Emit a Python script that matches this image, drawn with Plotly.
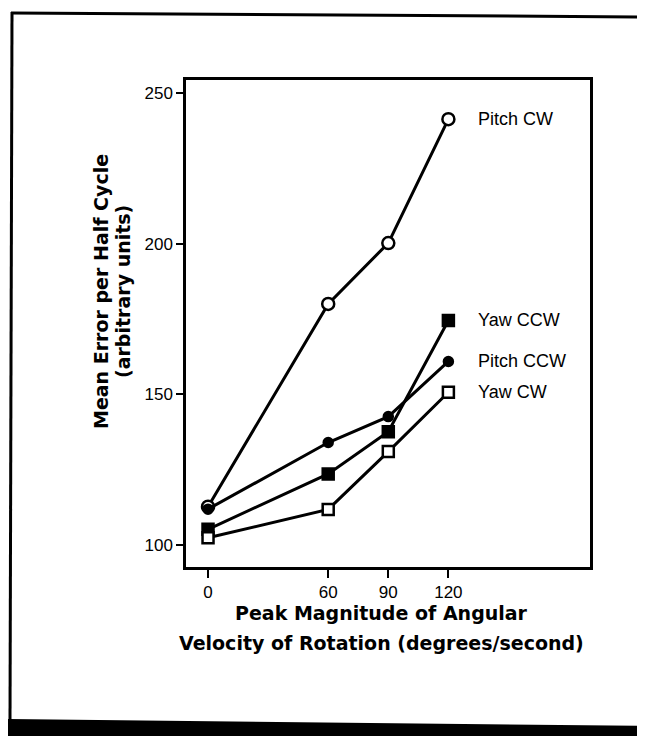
import plotly.graph_objects as go

# velocity (degrees/second)
velocity = [0, 60, 90, 120]

# mean error per half cycle (arbitrary units)
pitch_cw = [112.7, 180.0, 200.2, 241.3]
pitch_ccw = [111.9, 134.0, 142.6, 160.9]
yaw_ccw = [105.2, 123.6, 137.6, 174.5]
yaw_cw = [102.4, 111.8, 131.0, 150.7]

series_names = ["Pitch CW", "Yaw CCW", "Pitch CCW", "Yaw CW"]
series_values = [pitch_cw, yaw_ccw, pitch_ccw, yaw_cw]
series_symbols = ["circle-open", "square", "circle", "square-open"]
series_sizes = [12, 11, 9, 11]

x_ticks = [0, 60, 90, 120]
y_ticks = [100, 150, 200, 250]

# the page body has an 8px margin, so the figure is drawn 8px in from the corner
OFF = 8
W, H = 645 - OFF, 736 - OFF
# plot box in page pixels
PL, PR, PT, PB = 186, 590, 80, 567
L, R, T, B = PL - OFF, PR - OFF, PT - OFF, PB - OFF
FONT = "Liberation Sans, Arial, sans-serif"
BOLD = "DejaVu Sans, Verdana, sans-serif"


def px_x(p):
    return (p - PL) / (PR - PL)


def px_y(p):
    return (PB - p) / (PB - PT)


fig = go.Figure()

for name, vals, sym, size in zip(series_names, series_values, series_symbols, series_sizes):
    fig.add_trace(go.Scatter(
        x=velocity, y=vals, mode="lines", name=name,
        line=dict(color="black", width=3),
        cliponaxis=False,
    ))
    open_marker = "open" in sym
    fig.add_trace(go.Scatter(
        x=velocity, y=vals, mode="markers", showlegend=False,
        marker=dict(symbol=sym.replace("-open", ""), size=size,
                    color="white" if open_marker else "black",
                    line=dict(color="black", width=2.5)),
        cliponaxis=False,
    ))
    fig.add_annotation(x=velocity[-1], y=vals[-1], text=name, showarrow=False,
                       xanchor="left", xshift=28, font=dict(size=18, color="black", family=FONT))

axis_style = dict(showline=True, linecolor="black", linewidth=2.5, mirror=True,
                  ticks="outside", tickwidth=2, tickcolor="black",
                  showgrid=False, zeroline=False,
                  tickfont=dict(size=17, color="black", family=FONT))

fig.update_xaxes(range=[-11, 190.7], tickvals=x_ticks, ticklen=8, **axis_style)
fig.update_yaxes(range=[92.7, 254.3], tickvals=y_ticks, ticklen=7, **axis_style)

# axis titles, each line placed on its own
title_font = dict(size=19, color="black", family=BOLD, weight="bold")
fig.add_annotation(xref="paper", yref="paper", x=px_x(381), y=px_y(626), showarrow=False,
                   text="Peak Magnitude of Angular", font=title_font)
fig.add_annotation(xref="paper", yref="paper", x=px_x(381), y=px_y(656), showarrow=False,
                   text="Velocity of Rotation (degrees/second)", font=title_font)
fig.add_annotation(xref="paper", yref="paper", x=px_x(88), y=px_y(292), showarrow=False,
                   text="Mean Error per Half Cycle", textangle=-90, font=title_font)
fig.add_annotation(xref="paper", yref="paper", x=px_x(110), y=px_y(292), showarrow=False,
                   text="(arbitrary units)", textangle=-90, font=title_font)

# scanned page border
fig.add_shape(type="line", xref="paper", yref="paper", x0=px_x(11), y0=px_y(13),
              x1=px_x(650), y1=px_y(17), line=dict(color="black", width=3))
fig.add_shape(type="line", xref="paper", yref="paper", x0=px_x(12), y0=px_y(12),
              x1=px_x(10), y1=px_y(722), line=dict(color="black", width=3))
fig.add_shape(type="path", xref="paper", yref="paper", line=dict(width=0), fillcolor="black",
              path=f"M {px_x(0)},{px_y(719)} L {px_x(650)},{px_y(726)} "
                   f"L {px_x(650)},{px_y(740)} L {px_x(0)},{px_y(740)} Z")

fig.update_layout(
    width=W, height=H, autosize=False,
    margin=dict(l=L, r=W - R, t=T, b=H - B),
    paper_bgcolor="white", plot_bgcolor="white",
    showlegend=False,
    font=dict(family=FONT, color="black"),
)

fig.write_html("out.html")
